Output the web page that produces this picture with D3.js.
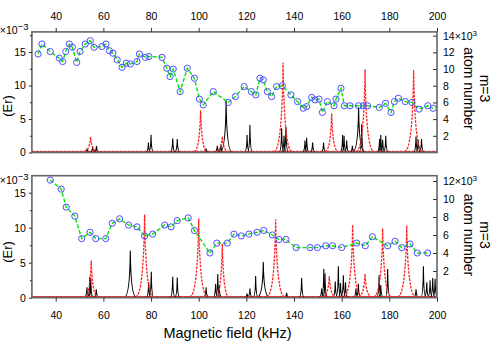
<!DOCTYPE html>
<html>
<head>
<meta charset="utf-8">
<script src="https://cdn.jsdelivr.net/npm/d3@7"></script>
<style>
  body { margin: 0; background: #fff; }
  svg { display: block; font-family: "Liberation Sans", Arial, sans-serif; }
</style>
</head>
<body>
<div id="chart"></div>
<script>
var fieldTicks = [40, 60, 80, 100, 120, 140, 160, 180, 200];
var energyTicks = [0, 5, 10, 15];
var energyMinorTicks = [2.5, 7.5, 12.5, 17.5];
var topAtomTicks = [2, 4, 6, 8, 10, 12, 14];
var bottomAtomTicks = [2, 4, 6, 8, 10, 12];

// top panel, atom number (x10^3)
var topCircleField = [32.6, 34.2, 37.7, 41.5, 42.9, 44.2, 45.7, 47.0, 48.8, 50.2, 52.4, 54.5, 56.1, 59.4, 61.1, 62.5, 64.0, 65.8, 67.8, 69.6,
  71.3, 74.1, 75.1, 77.6, 79.1, 84.6, 86.6, 88.0, 89.3, 92.2, 95.2, 98.2, 100.3, 101.9, 106.1, 112.4, 115.4, 119.1, 122.1, 124.0,
  125.7, 127.1, 128.8, 130.6, 132.7, 135.1, 138.7, 141.5, 143.9, 145.3, 147.4, 148.8, 150.5, 151.9, 154.0, 156.8, 157.6, 159.7, 161.1, 163.5,
  167.1, 169.0, 170.9, 175.8, 178.4, 180.7, 182.1, 183.8, 186.7, 189.5, 192.5, 196.1, 198.4];
var topCircleAtoms = [11.8, 13.0, 12.1, 11.3, 10.9, 12.1, 13.0, 12.6, 10.8, 12.1, 13.0, 13.4, 12.6, 12.7, 13.0, 12.2, 11.9, 11.1, 10.2, 10.7,
  10.6, 10.9, 11.8, 11.4, 11.5, 11.4, 10.1, 9.1, 10.0, 7.3, 10.1, 8.9, 6.4, 5.7, 7.3, 6.0, 6.7, 7.9, 7.3, 6.9,
  8.9, 8.7, 7.3, 6.7, 7.9, 8.0, 6.9, 6.1, 5.3, 5.5, 6.6, 6.3, 6.4, 4.8, 6.1, 5.6, 6.4, 7.7, 5.6, 5.6,
  5.6, 5.6, 5.6, 5.4, 5.9, 4.8, 6.1, 6.5, 6.1, 6.0, 5.2, 5.6, 5.3];

// top panel spectra (x10^-3)
var topRedField = [54.6, 100.8, 109.9, 135.4, 155.8, 169.8, 190.2];
var topRedEnergy = [2.3, 6.3, 2.4, 13.4, 5.8, 12.4, 12.3];
var topBlackField = [53.2, 55.5, 57.1, 78.9, 80.0, 89.1, 91.0, 103.1, 107.8, 109.3, 111.5, 120.3, 121.5, 134.8, 135.8, 136.6,
  144.6, 145.3, 147.8, 152.4, 160.4, 161.0, 162.1, 164.5, 167.1, 168.4, 175.9, 176.4, 177.2, 178.5, 191.2, 192.1, 193.5];
var topBlackEnergy = [0.6, 0.9, 0.95, 1.5, 2.65, 2.1, 2.0, 0.6, 1.0, 1.2, 7.8, 2.6, 4.1, 3.6, 2.5, 3.8,
  1.8, 2.2, 1.5, 1.5, 2.6, 2.5, 1.8, 1.0, 6.7, 4.2, 2.0, 2.6, 1.9, 2.5, 2.4, 1.9, 2.0];

// bottom panel, atom number (x10^3)
var bottomCircleField = [37.7, 42.3, 44.4, 48.0, 50.9, 54.4, 56.8, 61.0, 63.7, 66.8, 70.6, 74.1, 77.3, 80.7, 85.7, 88.4, 91.0, 95.6, 98.2,
  104.7, 107.6, 112.0, 114.8, 117.9, 121.1, 124.5, 127.3, 130.9, 133.7, 136.6, 140.9, 146.7, 149.8, 153.3, 156.2, 160.0,
  166.3, 169.9, 172.9, 179.3, 182.4, 185.2, 188.7, 191.7, 196.1];
var bottomCircleAtoms = [12.1, 11.1, 9.1, 8.1, 5.6, 6.3, 5.6, 5.6, 7.3, 7.8, 7.1, 6.9, 5.9, 6.1, 7.1, 6.9, 7.6, 7.9, 6.5,
  4.0, 5.1, 5.1, 6.1, 5.9, 6.1, 6.3, 6.5, 6.0, 5.5, 5.5, 4.6, 4.6, 4.6, 4.8, 4.8, 4.6,
  5.1, 4.8, 5.8, 4.8, 5.3, 4.6, 5.0, 4.0, 4.0];

// bottom panel spectra (x10^-3)
var bottomRedField = [54.9, 77.3, 100.0, 109.9, 132.3, 154.8, 164.6, 169.8, 177.2, 187.3];
var bottomRedEnergy = [5.3, 11.9, 11.3, 7.7, 11.2, 3.1, 10.4, 3.4, 9.9, 10.3];
var bottomBlackField = [53.1, 54.3, 54.7, 57.0, 71.3, 79.0, 80.1, 89.1, 91.0, 103.1, 107.1, 108.0, 108.6, 120.3, 121.5, 123.9, 127.1,
  136.9, 143.2, 151.6, 152.5, 153.0, 157.3, 158.6, 159.5, 160.7, 161.6, 166.0, 167.0, 175.7, 176.4, 179.3,
  191.2, 194.3, 195.7, 197.1, 198.2, 199.2];
var bottomBlackEnergy = [1.5, 3.0, 2.8, 1.2, 6.7, 2.2, 3.7, 3.0, 2.9, 1.5, 2.0, 3.4, 1.8, 0.6, 1.3, 3.1, 5.1,
  0.7, 2.8, 1.3, 4.1, 3.5, 2.3, 4.5, 2.1, 3.2, 2.2, 1.3, 2.0, 3.2, 1.8, 4.1,
  1.2, 4.5, 2.2, 2.5, 2.8, 2.7];

var width = 500, height = 350;
var left = 31.9, right = 437;

var svg = d3.select("#chart").append("svg")
    .attr("width", width)
    .attr("height", height);

var x = d3.scaleLinear().domain([30, 200]).range([left, right]);

function peakPath(px, py, y0, w, c) {
  return "M" + (px - w) + "," + y0 +
      "Q" + (px - c) + "," + y0 + " " + px + "," + py +
      "Q" + (px + c) + "," + y0 + " " + (px + w) + "," + y0;
}

function drawPanel(p) {
  var yL = d3.scaleLinear().domain(p.energyDomain).range([p.bottom, p.top]);
  var yR = d3.scaleLinear().domain(p.atomDomain).range([p.bottom, p.top]);
  var y0 = yL(0);

  var g = svg.append("g");

  var clipId = "clip" + p.id;
  svg.append("clipPath").attr("id", clipId)
      .append("rect")
      .attr("x", left).attr("y", p.top)
      .attr("width", right - left).attr("height", p.bottom - p.top);

  var plot = g.append("g").attr("clip-path", "url(#" + clipId + ")");

  // black spectrum
  plot.append("line")
      .attr("x1", left).attr("x2", right)
      .attr("y1", y0 - 0.5).attr("y2", y0 - 0.5)
      .attr("stroke", "#000").attr("stroke-width", 1.2);
  plot.selectAll(".bpeak")
      .data(d3.range(p.blackField.length))
      .enter().append("path")
      .attr("d", function (i) {
        var h = p.blackEnergy[i];
        return h > 5 ? peakPath(x(p.blackField[i]), yL(h), y0 - 0.5, 6, 0.5)
                     : peakPath(x(p.blackField[i]), yL(h), y0 - 0.5, 2.5, 0.3);
      })
      .attr("fill", "none")
      .attr("stroke", "#000")
      .attr("stroke-width", 1.1);

  // red dashed spectrum
  plot.append("line")
      .attr("x1", left).attr("x2", right)
      .attr("y1", y0 - 1.2).attr("y2", y0 - 1.2)
      .attr("stroke", "#ff2020").attr("stroke-width", 1.1)
      .attr("stroke-dasharray", "2.5,1.5");
  plot.selectAll(".rpeak")
      .data(d3.range(p.redField.length))
      .enter().append("path")
      .attr("d", function (i) {
        var h = p.redEnergy[i];
        return peakPath(x(p.redField[i]), yL(h), y0 - 1, h > 9 ? 9 : 6.5, 1.1);
      })
      .attr("fill", "none")
      .attr("stroke", "#ff2020")
      .attr("stroke-width", 1.3)
      .attr("stroke-dasharray", "2.5,1.2");

  // atom number
  var pts = d3.range(p.circleField.length).map(function (i) {
    return [x(p.circleField[i]), yR(p.circleAtoms[i])];
  });
  plot.append("path")
      .attr("d", d3.line()(pts))
      .attr("fill", "none")
      .attr("stroke", "#00e600")
      .attr("stroke-width", 1.4)
      .attr("stroke-dasharray", "4,2");
  plot.selectAll(".dot")
      .data(pts)
      .enter().append("circle")
      .attr("cx", function (d) { return d[0]; })
      .attr("cy", function (d) { return d[1]; })
      .attr("r", 3.1)
      .attr("fill", "none")
      .attr("stroke", "#4d4dff")
      .attr("stroke-width", 1);

  // frame
  g.append("rect")
      .attr("x", left).attr("y", p.top)
      .attr("width", right - left).attr("height", p.bottom - p.top)
      .attr("fill", "none")
      .attr("stroke", "#666")
      .attr("stroke-width", 1.6);

  // left axis
  g.append("g")
      .attr("transform", "translate(" + left + ",0)")
      .call(d3.axisLeft(yL).tickValues(energyTicks).tickSize(3).tickPadding(3));
  g.append("g")
      .attr("transform", "translate(" + left + ",0)")
      .call(d3.axisLeft(yL).tickValues(energyMinorTicks.filter(function (v) { return v < p.energyDomain[1]; }))
          .tickSize(2).tickFormat(""));

  // right axis
  var gr = g.append("g")
      .attr("transform", "translate(" + right + ",0)")
      .call(d3.axisRight(yR).tickValues(p.atomTicks).tickSize(-4).tickPadding(6));
  var topTick = p.atomTicks[p.atomTicks.length - 1];
  gr.selectAll(".tick text")
      .filter(function (d) { return d === topTick; })
      .text(topTick + "\u00d710")
      .append("tspan")
      .attr("dy", "-0.45em")
      .attr("font-size", 8)
      .text("3");

  // x axis
  if (p.xOnTop) {
    g.append("g")
        .attr("transform", "translate(0," + p.top + ")")
        .call(d3.axisTop(x).tickValues(fieldTicks).tickSize(4).tickPadding(8));
  } else {
    g.append("g")
        .attr("transform", "translate(0," + p.bottom + ")")
        .call(d3.axisBottom(x).tickValues(fieldTicks).tickSize(4).tickPadding(10));
  }

  g.selectAll(".domain").remove();
  g.selectAll(".tick line").attr("stroke", "#333");
  g.selectAll(".tick text")
      .attr("font-family", "Liberation Sans, Arial, sans-serif")
      .attr("font-size", 10.5)
      .attr("fill", "#000");

  // scale multiplier on left
  var m = g.append("text")
      .attr("x", 28.5).attr("y", p.multY)
      .attr("text-anchor", "end")
      .attr("font-size", 10.5);
  m.append("tspan").text("\u00d710");
  m.append("tspan").attr("dy", -4).attr("font-size", 9.5).text("\u22123");

  // y labels
  g.append("text")
      .attr("transform", "translate(12," + p.leftLabelY + ") rotate(-90)")
      .attr("text-anchor", "middle")
      .attr("font-size", 13)
      .text("(Er)");

  g.append("text")
      .attr("transform", "translate(479.5," + p.rightLabelY + ") rotate(90)")
      .attr("text-anchor", "middle")
      .attr("font-size", 14)
      .text("m=3");
  g.append("text")
      .attr("transform", "translate(463.5," + p.rightLabelY + ") rotate(90)")
      .attr("text-anchor", "middle")
      .attr("font-size", 14)
      .text("atom number");
}

drawPanel({
  id: "top", top: 31.9, bottom: 152.5,
  energyDomain: [0, 18], atomDomain: [0, 14.45],
  atomTicks: topAtomTicks,
  circleField: topCircleField, circleAtoms: topCircleAtoms,
  redField: topRedField, redEnergy: topRedEnergy,
  blackField: topBlackField, blackEnergy: topBlackEnergy,
  xOnTop: true, multY: 33.5, leftLabelY: 106, rightLabelY: 88.5
});

drawPanel({
  id: "bottom", top: 175.7, bottom: 297.7,
  energyDomain: [0, 17.43], atomDomain: [-0.97, 12.59],
  atomTicks: bottomAtomTicks,
  circleField: bottomCircleField, circleAtoms: bottomCircleAtoms,
  redField: bottomRedField, redEnergy: bottomRedEnergy,
  blackField: bottomBlackField, blackEnergy: bottomBlackEnergy,
  xOnTop: false, multY: 184, leftLabelY: 252, rightLabelY: 235
});

svg.append("text")
    .attr("x", 227.5).attr("y", 338)
    .attr("text-anchor", "middle")
    .attr("font-size", 14.5)
    .text("Magnetic field (kHz)");
</script>
</body>
</html>
